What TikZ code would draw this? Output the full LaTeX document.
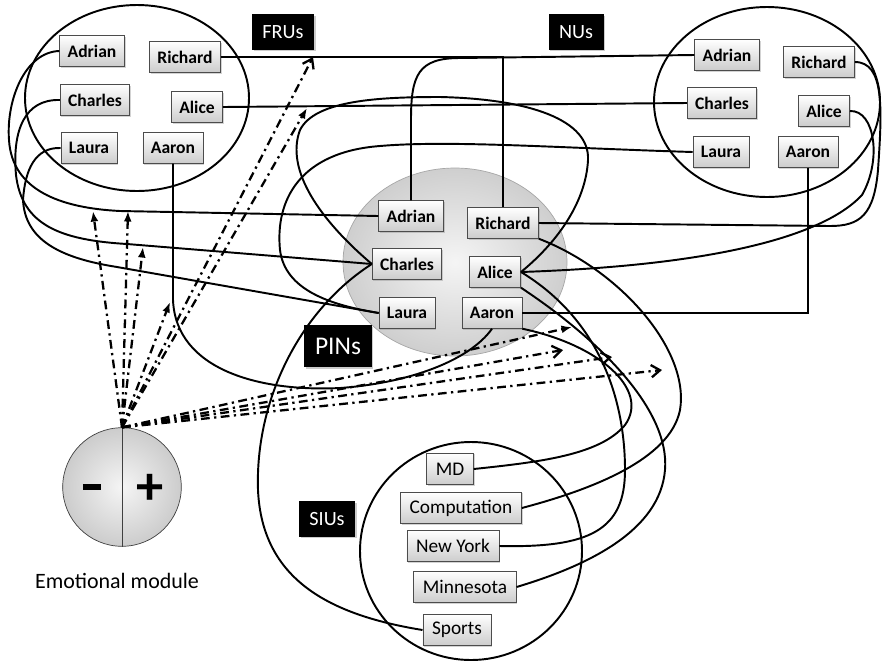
\documentclass[tikz,border=0pt]{standalone}
\usepackage{fontspec}
\setmainfont{Carlito}
\usetikzlibrary{arrows.meta,shadows}

\tikzset{
  namebox/.style={draw=black!70, top color=white, bottom color=gray!40,
    font=\fontsize{10}{12}\selectfont\bfseries, inner xsep=4.5pt, inner ysep=0pt,
    minimum height=17.5pt,
    drop shadow={opacity=0.35, shadow xshift=0.7pt, shadow yshift=-0.7pt}},
  itembox/.style={namebox, font=\fontsize{11}{13}\selectfont, inner xsep=5.2pt,
    minimum height=18pt},
  tagbox/.style={fill=black, text=white, font=\fontsize{11.5}{13}\selectfont,
    minimum height=20pt, inner xsep=6pt,
    drop shadow={opacity=0.4, shadow xshift=1pt, shadow yshift=-1pt}},
  group/.style={line width=1.1pt},
  link/.style={line width=1.1pt},
  ray/.style={line width=1.3pt, dash pattern=on 5pt off 2.5pt on 1.3pt off 2.5pt},
}

\begin{document}
\begin{tikzpicture}[x=0.02cm, y=-0.02cm]
        \useasboundingbox (0,0) rectangle (882,667);

        % groups
        \draw[group] (137,98) ellipse [x radius=112, y radius=93];
        \draw[group] (767,102) ellipse [x radius=113, y radius=95];
        \draw[gray!70, inner color=gray!8, outer color=gray!38] (455,262) ellipse [x radius=112, y radius=94];
        \draw[group] (471,551) ellipse [x radius=111, y radius=109];

        % FRUs
        \node[namebox] (fAdrian) at (92,51) {Adrian};
        \node[namebox] (fRichard) at (185,57) {Richard};
        \node[namebox] (fCharles) at (95,100) {Charles};
        \node[namebox] (fAlice) at (197,107) {Alice};
        \node[namebox] (fLaura) at (89,148) {Laura};
        \node[namebox] (fAaron) at (173,148) {Aaron};

        % NUs
        \node[namebox] (nAdrian) at (727,55) {Adrian};
        \node[namebox] (nRichard) at (819,62) {Richard};
        \node[namebox] (nCharles) at (722,103) {Charles};
        \node[namebox] (nAlice) at (824,111) {Alice};
        \node[namebox] (nLaura) at (721,152) {Laura};
        \node[namebox] (nAaron) at (808,152) {Aaron};

        % PINs
        \node[namebox] (pAdrian) at (411,216) {Adrian};
        \node[namebox] (pRichard) at (503,223) {Richard};
        \node[namebox] (pCharles) at (407,264) {Charles};
        \node[namebox] (pAlice) at (495,272) {Alice};
        \node[namebox] (pLaura) at (407,313) {Laura};
        \node[namebox] (pAaron) at (492,313) {Aaron};

        % SIUs
        \node[itembox] (sMD) at (450,469) {MD};
        \node[itembox] (sComputation) at (461,508) {Computation};
        \node[itembox] (sNewYork) at (453,546) {New York};
        \node[itembox] (sMinnesota) at (465,587) {Minnesota};
        \node[itembox] (sSports) at (457,630) {Sports};

        % labels
        \node[tagbox] (fru) at (283,32) {FRUs};
        \node[tagbox] (nu) at (576,32) {NUs};
        \node[tagbox, font=\fontsize{14.5}{16}\selectfont, minimum height=24pt] (pin) at (338,346) {PINs};
        \node[tagbox] (siu) at (327,519) {SIUs};

        % emotional module
        \node[circle, draw=black!75, inner color=gray!8, outer color=gray!40, minimum size=67.5pt] (emo) at (122,487) {};
        \draw[black!75] (emo.north) -- (emo.south);
        \node[inner sep=0pt] (minus) at (92,487) {\rule{10.5pt}{3.6pt}};
        \node[font=\fontsize{31}{31}\selectfont\bfseries] (plus) at (150,489) {+};
        \node[font=\fontsize{12.5}{14}\selectfont] (emolabel) at (117,581) {Emotional module};

        % FRUs to PINs
        \draw[link] (fRichard.east) -| (pRichard.north);
        \draw[link] (fAdrian.west) .. controls (25,52) and (6,100) .. (9,140)
        .. controls (12,190) and (60,208) .. (120,211) -- (pAdrian.west);
        \draw[link] (fCharles.west) .. controls (25,99) and (12,130) .. (16,175)
        .. controls (22,225) and (60,240) .. (127,244) -- (pCharles.west);
        \draw[link] (fLaura.west) .. controls (35,147) and (25,170) .. (23,200)
        .. controls (25,240) and (60,258) .. (117,267) -- (pLaura.west);
        \draw[link] (fAaron.south) -- (173,300) .. controls (176,370) and (260,392) .. (340,388)
        .. controls (410,383) and (470,360) .. (pAaron.south);
        \draw[link] (fAlice.east) -- (nCharles.west);

        % NUs to PINs
        \draw[link] (nAdrian.west) -- (460,58) .. controls (418,58) and (411,75) .. (411,120) -- (pAdrian.north);
        \draw[link] (nLaura.west) .. controls (560,148) and (450,140) .. (380,146)
        .. controls (300,152) and (275,200) .. (280,250) .. controls (285,290) and (330,305) .. (pLaura.west);
        \draw[link] (nRichard.east) .. controls (885,62) and (882,110) .. (878,170)
        .. controls (874,215) and (860,226) .. (830,226) -- (pRichard.east);
        \draw[link] (nAlice.east) .. controls (875,110) and (882,160) .. (862,195)
        .. controls (820,240) and (700,266) .. (pAlice.east);
        \draw[link] (nAaron.south) |- (pAaron.east);

        % inside PINs
        \draw[link] (pCharles.west) .. controls (320,220) and (285,170) .. (300,130)
        .. controls (315,100) and (380,97) .. (440,97) .. controls (530,99) and (590,120) .. (588,160)
        .. controls (586,200) and (560,240) .. (pAlice.east);

        % PINs to SIUs
        \draw[link] (pCharles.west) .. controls (300,310) and (255,400) .. (258,490)
        .. controls (262,580) and (330,615) .. (sSports.west);
        \draw[link] (pAaron.south east) .. controls (600,345) and (650,390) .. (625,425)
        .. controls (600,455) and (540,462) .. (sMD.east);
        \draw[link] (pAlice.east) .. controls (600,320) and (625,400) .. (625,470)
        .. controls (625,530) and (590,548) .. (sNewYork.east);
        \draw[link] (pAlice.south east) .. controls (600,340) and (670,410) .. (665,470)
        .. controls (660,530) and (590,565) .. (sMinnesota.east);
        \draw[link] (pRichard.south east) .. controls (620,270) and (690,350) .. (680,410)
        .. controls (670,460) and (590,490) .. (sComputation.east);

        % emotional rays
        \coordinate (u1) at (93,211);
        \coordinate (u2) at (128,211);
        \coordinate (u3) at (143,247);
        \coordinate (u4) at (170,302);
        \coordinate (u5) at (307,108);
        \coordinate (u6) at (313,57);
        \coordinate (r1) at (572,327);
        \coordinate (r2) at (563,350);
        \coordinate (r3) at (612,357);
        \coordinate (r4) at (662,370);
        \foreach \t in {u1,u2,u3,u4,u5,r1}
          \draw[ray, -{Latex[length=6pt,width=4.5pt]}] (emo.north) -- (\t);
        \foreach \t in {u6,r2,r3,r4}
          \draw[ray, -{Straight Barb[length=5pt,width=7pt]}] (emo.north) -- (\t);
\end{tikzpicture}
\end{document}
